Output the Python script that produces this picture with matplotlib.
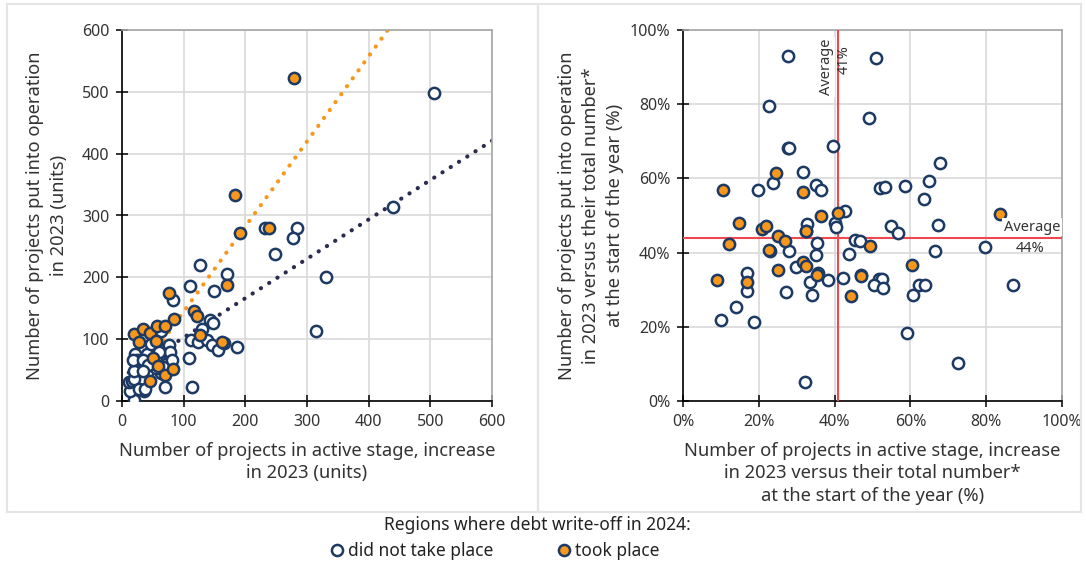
import numpy as np
import matplotlib
matplotlib.use("Agg")
import matplotlib.pyplot as plt
from matplotlib.patches import Rectangle
from matplotlib.lines import Line2D

plt.rcParams["font.family"] = ["Noto Sans", "DejaVu Sans"]

# Left panel: absolute numbers (units)
abs_not_x = [506, 440, 127, 170, 232, 284, 277, 248, 331, 110, 149, 82, 143, 148, 129,
             112, 124, 138, 146, 155, 165, 186, 315, 108, 113, 69,
             64, 19, 13, 35, 11, 16, 19, 19, 21, 40, 35, 42, 72, 77, 72, 64, 25, 18,
             34, 76, 78, 81, 67, 55, 42, 34, 28, 38, 47, 55, 60]
abs_not_y = [498, 313, 220, 205, 279, 279, 264, 238, 201, 186, 178, 163, 131, 126, 117,
             98, 96, 98, 90, 82, 93, 88, 113, 69, 22, 22,
             114, 2, 16, 16, 31, 33, 36, 49, 76, 76, 60, 49, 86, 76, 60, 46, 66, 67,
             66, 91, 80, 66, 55, 53, 58, 48, 19, 19, 92, 70, 80]
abs_took_x = [279, 184, 191, 238, 170, 76, 85, 116, 121, 127, 162, 20, 34, 28, 45, 56,
              69, 55, 51, 58, 70, 82, 45]
abs_took_y = [522, 333, 272, 279, 188, 175, 133, 145, 137, 107, 95, 109, 116, 95, 110, 121,
              121, 97, 69, 57, 42, 52, 33]

# Linear trends (slope, intercept)
trend_not = (0.6365, 39.0)
trend_took = (1.376, 7.0)

# Right panel: shares (%)
pct_not_x = [27.6, 51.0, 22.8, 49.0, 27.6, 28.0, 39.7, 67.9, 19.9, 23.7, 31.7, 35.1, 36.3,
             52.1, 53.3, 58.5, 65.0, 63.5, 42.8, 40.0, 40.3, 32.8, 32.4, 54.9, 56.7, 67.2,
             45.5, 46.8, 35.3, 28.1, 22.9, 43.8, 66.5, 79.6, 29.7, 35.1, 17.0, 42.3, 51.7,
             52.6, 38.2, 17.0, 14.0, 10.0, 18.8, 27.1, 33.5, 34.0, 50.5, 52.8, 60.8, 62.4,
             63.9, 87.2, 59.1, 72.6, 32.2, 46.9, 35.5]
pct_not_y = [92.9, 92.5, 79.5, 76.3, 68.1, 68.3, 68.7, 64.2, 57.0, 58.8, 61.7, 58.3, 57.0,
             57.3, 57.6, 58.0, 59.3, 54.4, 51.3, 48.1, 47.0, 47.8, 45.9, 47.1, 45.2, 47.5,
             43.3, 43.2, 42.7, 40.5, 40.3, 39.5, 40.5, 41.4, 36.1, 39.3, 34.6, 33.2, 32.9,
             32.9, 32.5, 29.7, 25.3, 21.8, 21.2, 29.4, 32.2, 28.7, 31.3, 30.5, 28.7, 31.3,
             31.3, 31.3, 18.2, 10.3, 5.0, 34.0, 34.6]
pct_took_x = [10.6, 24.5, 31.7, 14.7, 20.8, 22.0, 12.1, 25.0, 27.0, 36.3, 40.9, 32.5, 22.7,
              25.0, 31.6, 32.5, 35.3, 49.4, 60.5, 83.6, 46.9, 17.0, 9.0, 44.4]
pct_took_y = [57.0, 61.4, 56.3, 48.1, 46.3, 47.1, 42.3, 44.6, 43.1, 50.0, 50.6, 45.8, 40.6,
              35.2, 37.5, 36.4, 34.0, 41.7, 36.7, 50.4, 33.7, 32.2, 32.5, 28.2]

avg_x = 41
avg_y = 44

NAVY = "#1c3a64"
ORANGE = "#f7981d"
TREND_NAVY = "#2a2d4f"
RED = "#f0484e"
GRID = "#d9d9d9"
TEXT = "#333333"

W, H = 1086, 567
fig = plt.figure(figsize=(W / 100, H / 100), dpi=100)

# panel frames
for x0, x1 in [(7, 538), (538, 1081)]:
    fig.add_artist(Rectangle((x0 / W, 1 - 512 / H), (x1 - x0) / W, 508 / H,
                             transform=fig.transFigure, fill=False,
                             ec="#e4e4e4", lw=1.5))

ax1 = fig.add_axes([122 / W, 1 - 401 / H, 370 / W, 371 / H])
ax2 = fig.add_axes([683 / W, 1 - 401 / H, 379 / W, 371 / H])


def style_axes(ax):
    ax.grid(True, color=GRID, lw=1.2, zorder=0)
    ax.set_axisbelow(True)
    for s in ["top", "right"]:
        ax.spines[s].set_color("#a6a6a6")
        ax.spines[s].set_linewidth(1.2)
    for s in ["left", "bottom"]:
        ax.spines[s].set_color("black")
        ax.spines[s].set_linewidth(1.2)
    ax.tick_params(direction="inout", length=8, width=1.1, labelsize=11.5,
                   colors="black", labelcolor=TEXT, pad=5)


marker_kw = dict(s=66, linewidths=1.8, edgecolors=NAVY, zorder=4)
dot_kw = dict(lw=3, linestyle=(0, (0.05, 2.3)), dash_capstyle="round", zorder=2)
xlab_kw = dict(fontsize=13.2, color=TEXT, labelpad=9, linespacing=1.32)
ylab_kw = dict(fontsize=13.2, color=TEXT, linespacing=1.45)

# Left: absolute values with trend lines
style_axes(ax1)
xs = np.array([min(abs_not_x), 600])
ax1.plot(xs, trend_not[0] * xs + trend_not[1], color=TREND_NAVY, **dot_kw)
xs = np.array([min(abs_took_x), 600])
ax1.plot(xs, trend_took[0] * xs + trend_took[1], color=ORANGE, **dot_kw)
ax1.scatter(abs_not_x, abs_not_y, facecolors="white", **marker_kw)
ax1.scatter(abs_took_x, abs_took_y, facecolors=ORANGE, **marker_kw)
ax1.set_xlim(0, 600)
ax1.set_ylim(0, 600)
ax1.set_xticks(range(0, 601, 100))
ax1.set_yticks(range(0, 601, 100))
ax1.set_xlabel("Number of projects in active stage, increase\nin 2023 (units)", **xlab_kw)
ax1.set_ylabel("Number of projects put into operation\nin 2023 (units)",
               labelpad=10, **ylab_kw)

# Right: shares with average lines
style_axes(ax2)
ax2.axvline(avg_x, color=RED, lw=1.5, zorder=3)
ax2.axhline(avg_y, color=RED, lw=1.5, zorder=3)
ax2.scatter(pct_not_x, pct_not_y, facecolors="white", **marker_kw)
ax2.scatter(pct_took_x, pct_took_y, facecolors=ORANGE, **marker_kw)
ax2.set_xlim(0, 100)
ax2.set_ylim(0, 100)
ax2.set_xticks(range(0, 101, 20))
ax2.set_yticks(range(0, 101, 20))
ax2.set_xticklabels([f"{v}%" for v in range(0, 101, 20)])
ax2.set_yticklabels([f"{v}%" for v in range(0, 101, 20)])
ax2.set_xlabel("Number of projects in active stage, increase\n"
               "in 2023 versus their total number*\nat the start of the year (%)",
               **xlab_kw)
ax2.set_ylabel("Number of projects put into operation\n"
               "in 2023 versus their total number*\nat the start of the year (%)",
               labelpad=4, **ylab_kw)

ax2.text(avg_x - 3.2, 90, "Average", rotation=90, ha="center", va="center",
         fontsize=10.5, color=TEXT, zorder=5,
         bbox=dict(fc="white", ec="none", pad=1))
ax2.text(avg_x + 1.6, 92, f"{avg_x}%", rotation=90, ha="center", va="center",
         fontsize=10.5, color=TEXT, zorder=5)
ax2.text(99.5, avg_y + 0.8, "Average", ha="right", va="bottom",
         fontsize=10.5, color=TEXT, zorder=5,
         bbox=dict(fc="white", ec="none", pad=1))
ax2.text(91.5, avg_y - 0.8, f"{avg_y}%", ha="center", va="top",
         fontsize=10.5, color=TEXT, zorder=5)

# Legend
fig.text(537 / W, 1 - 525 / H, "Regions where debt write-off in 2024:",
         ha="center", va="center", fontsize=12.5, color="#222222")
handles = [
    Line2D([], [], ls="none", marker="o", ms=8, mfc="white", mec=NAVY, mew=1.8,
           label="did not take place"),
    Line2D([], [], ls="none", marker="o", ms=8, mfc=ORANGE, mec=NAVY, mew=1.8,
           label="took place"),
]
fig.legend(handles=handles, loc="center", bbox_to_anchor=(494 / W, 1 - 551 / H),
           ncol=2, frameon=False, fontsize=12.5, handletextpad=0.1,
           columnspacing=3.6, handlelength=1.0, labelcolor="#222222")

fig.savefig("out.png", dpi=100)
